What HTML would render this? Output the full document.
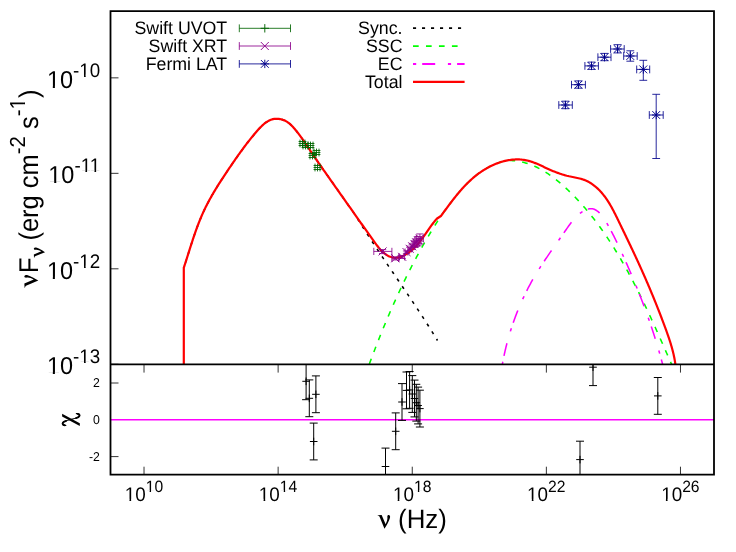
<!DOCTYPE html>
<html><head><meta charset="utf-8"><title>SED</title>
<style>
html,body{margin:0;padding:0;background:#fff;}
svg{display:block;} .tx{opacity:0.999;}
text{font-family:"Liberation Sans",sans-serif;fill:#000;text-rendering:geometricPrecision;}
</style></head><body>
<svg width="736" height="552" viewBox="0 0 736 552">
<rect x="0" y="0" width="736" height="552" fill="#fff"/>
<defs><clipPath id="cm"><rect x="110.5" y="11.2" width="603.5" height="353.1"/></clipPath>
<clipPath id="cr"><rect x="110.5" y="364.3" width="603.5" height="110.39999999999998"/></clipPath></defs>

<g clip-path="url(#cm)" fill="none">
<path d="M183.80,267.70 L184.18,266.55 L184.56,265.41 L184.93,264.27 L185.30,263.12 L185.67,261.98 L186.04,260.83 L186.41,259.69 L186.77,258.55 L187.13,257.40 L187.50,256.26 L187.86,255.12 L188.22,253.98 L188.58,252.84 L188.94,251.70 L189.30,250.56 L189.66,249.42 L190.02,248.28 L190.38,247.14 L190.75,246.01 L191.11,244.87 L191.47,243.74 L191.84,242.60 L192.21,241.47 L192.58,240.34 L192.95,239.21 L193.33,238.08 L193.71,236.95 L194.09,235.83 L194.47,234.70 L194.86,233.58 L195.25,232.45 L195.64,231.33 L196.04,230.21 L196.44,229.09 L196.85,227.97 L197.26,226.86 L197.68,225.74 L198.10,224.63 L198.53,223.52 L198.96,222.41 L199.40,221.30 L199.84,220.19 L200.30,219.09 L200.75,217.99 L201.22,216.89 L201.69,215.79 L202.16,214.69 L202.65,213.60 L203.14,212.50 L203.64,211.41 L204.15,210.32 L204.67,209.24 L205.19,208.15 L205.72,207.07 L206.26,205.99 L206.81,204.91 L207.36,203.84 L207.93,202.76 L208.49,201.69 L209.07,200.62 L209.65,199.56 L210.23,198.50 L210.83,197.44 L211.42,196.38 L212.03,195.32 L212.64,194.27 L213.25,193.22 L213.87,192.17 L214.49,191.13 L215.11,190.09 L215.74,189.05 L216.38,188.01 L217.01,186.98 L217.65,185.95 L218.30,184.92 L218.94,183.90 L219.59,182.88 L220.24,181.86 L220.89,180.85 L221.54,179.84 L222.20,178.83 L222.86,177.83 L223.51,176.83 L224.17,175.83 L224.83,174.83 L225.49,173.84 L226.15,172.86 L226.81,171.87 L227.47,170.89 L228.13,169.92 L228.78,168.94 L229.44,167.98 L230.09,167.01 L230.75,166.05 L231.40,165.09 L232.05,164.14 L232.70,163.19 L233.35,162.24 L234.00,161.29 L234.65,160.35 L235.30,159.41 L235.96,158.47 L236.61,157.53 L237.27,156.59 L237.93,155.65 L238.59,154.72 L239.26,153.78 L239.93,152.85 L240.61,151.91 L241.29,150.98 L241.97,150.04 L242.66,149.10 L243.35,148.16 L244.05,147.22 L244.76,146.28 L245.47,145.34 L246.20,144.39 L246.92,143.44 L247.66,142.49 L248.41,141.54 L249.16,140.58 L249.92,139.62 L250.69,138.65 L251.48,137.68 L252.27,136.71 L253.07,135.73 L253.89,134.75 L254.71,133.76 L255.55,132.76 L256.40,131.77 L257.26,130.77 L258.14,129.78 L259.03,128.80 L259.93,127.84 L260.85,126.90 L261.78,125.99 L262.72,125.11 L263.68,124.27 L264.66,123.46 L265.65,122.71 L266.66,122.00 L267.69,121.35 L268.73,120.77 L269.79,120.25 L270.87,119.80 L271.97,119.43 L273.09,119.14 L274.22,118.93 L275.36,118.81 L276.51,118.76 L277.67,118.79 L278.81,118.89 L279.95,119.06 L281.07,119.29 L282.17,119.59 L283.24,119.95 L284.28,120.37 L285.29,120.84 L286.26,121.36 L287.19,121.93 L288.10,122.55 L288.98,123.21 L289.83,123.91 L290.66,124.65 L291.48,125.42 L292.27,126.22 L293.05,127.05 L293.82,127.91 L294.58,128.78 L295.33,129.68 L296.08,130.59 L296.82,131.52 L297.56,132.47 L298.30,133.42 L299.03,134.39 L299.76,135.37 L300.49,136.36 L301.21,137.36 L301.94,138.37 L302.65,139.38 L303.37,140.41 L304.08,141.43 L304.79,142.47 L305.50,143.50 L306.20,144.54 L306.91,145.58 L307.60,146.62 L308.30,147.66 L309.00,148.70 L309.69,149.74 L310.38,150.77 L311.07,151.80 L311.76,152.83 L312.45,153.85 L313.13,154.86 L313.81,155.87 L314.49,156.87 L315.17,157.87 L315.85,158.86 L316.53,159.85 L317.21,160.84 L317.88,161.82 L318.56,162.80 L319.23,163.77 L319.91,164.74 L320.58,165.71 L321.25,166.67 L321.92,167.64 L322.59,168.60 L323.26,169.56 L323.93,170.52 L324.60,171.47 L325.28,172.43 L325.95,173.38 L326.62,174.34 L327.29,175.29 L327.96,176.24 L328.63,177.20 L329.30,178.15 L329.98,179.11 L330.65,180.06 L331.32,181.02 L332.00,181.98 L332.68,182.94 L333.35,183.90 L334.03,184.86 L334.71,185.83 L335.39,186.79 L336.07,187.76 L336.75,188.72 L337.43,189.69 L338.11,190.66 L338.79,191.63 L339.47,192.60 L340.16,193.57 L340.84,194.54 L341.53,195.51 L342.21,196.48 L342.90,197.46 L343.58,198.43 L344.27,199.41 L344.96,200.39 L345.65,201.36 L346.34,202.34 L347.03,203.32 L347.72,204.30 L348.41,205.28 L349.10,206.26 L349.79,207.24 L350.49,208.23 L351.18,209.21 L351.88,210.19 L352.57,211.18 L353.27,212.16 L353.96,213.15 L354.66,214.13 L355.35,215.12 L355.98,216.14 L356.60,217.16 L357.23,218.18 L357.86,219.20 L358.49,220.22 L359.12,221.24 L359.76,222.26 L360.39,223.27 L361.03,224.29 L361.67,225.30 L362.31,226.31 L362.95,227.33 L363.59,228.34 L364.23,229.35 L364.88,230.36 L365.52,231.37 L366.17,232.38 L366.82,233.38 L367.46,234.39 L368.12,235.40 L368.77,236.40 L369.42,237.41 L370.07,238.41 L370.73,239.42 L371.38,240.42 L372.04,241.42 L372.70,242.43 L373.36,243.43 L374.02,244.43 L374.68,245.43 L375.34,246.43 L376.00,247.43 L376.66,248.43 L377.32,249.43 L377.99,250.42 L378.65,251.42 L379.32,252.42 L379.99,253.42 L380.65,254.41 L381.32,255.41 L381.99,256.40 L382.66,257.40 L383.33,258.39 L384.00,259.39 L384.67,260.38 L385.34,261.38 L386.01,262.37 L386.68,263.37 L387.35,264.36 L388.02,265.35 L388.70,266.35 L389.37,267.34 L390.04,268.33 L390.72,269.32 L391.39,270.32 L392.06,271.31 L392.74,272.30 L393.41,273.29 L394.08,274.29 L394.76,275.28 L395.43,276.27 L396.11,277.26 L396.78,278.26 L397.46,279.25 L398.13,280.24 L398.80,281.23 L399.48,282.23 L400.15,283.22 L400.83,284.21 L401.50,285.20 L402.17,286.20 L402.85,287.19 L403.52,288.18 L404.19,289.18 L404.86,290.17 L405.54,291.17 L406.21,292.16 L406.88,293.15 L407.55,294.15 L408.22,295.14 L408.89,296.14 L409.56,297.14 L410.23,298.13 L410.90,299.13 L411.57,300.12 L412.23,301.12 L412.90,302.12 L413.56,303.12 L414.23,304.12 L414.89,305.12 L415.56,306.11 L416.22,307.11 L416.88,308.12 L417.54,309.12 L418.21,310.12 L418.86,311.12 L419.52,312.12 L420.18,313.13 L420.84,314.13 L421.49,315.13 L422.15,316.14 L422.80,317.15 L423.46,318.15 L424.11,319.16 L424.76,320.17 L425.41,321.18 L426.06,322.19 L426.70,323.20 L427.35,324.21 L427.99,325.22 L428.64,326.23 L429.28,327.24 L429.92,328.26 L430.56,329.27 L431.20,330.29 L431.84,331.31 L432.47,332.32 L433.11,333.34 L433.74,334.36 L434.37,335.38 L435.00,336.40 L435.63,337.43 L436.25,338.45 L436.88,339.47 L437.50,340.50" stroke="#000" stroke-width="1.6" stroke-dasharray="3.1,5.9" stroke-dashoffset="3.6"/>
<path d="M369.10,364.60 L369.52,363.48 L369.93,362.36 L370.35,361.24 L370.77,360.11 L371.19,358.99 L371.61,357.87 L372.04,356.75 L372.46,355.63 L372.88,354.51 L373.31,353.40 L373.74,352.28 L374.17,351.16 L374.60,350.04 L375.03,348.92 L375.46,347.80 L375.89,346.69 L376.33,345.57 L376.76,344.46 L377.20,343.34 L377.64,342.22 L378.08,341.11 L378.52,339.99 L378.96,338.88 L379.40,337.77 L379.85,336.65 L380.29,335.54 L380.74,334.43 L381.19,333.32 L381.64,332.20 L382.09,331.09 L382.54,329.98 L383.00,328.87 L383.45,327.76 L383.91,326.66 L384.37,325.55 L384.83,324.44 L385.29,323.33 L385.75,322.23 L386.22,321.12 L386.68,320.02 L387.15,318.91 L387.62,317.81 L388.09,316.70 L388.56,315.60 L389.03,314.50 L389.51,313.40 L389.98,312.30 L390.46,311.19 L390.94,310.10 L391.42,309.00 L391.90,307.90 L392.38,306.80 L392.87,305.70 L393.36,304.61 L393.84,303.51 L394.33,302.42 L394.83,301.32 L395.32,300.23 L395.81,299.14 L396.31,298.05 L396.81,296.96 L397.31,295.87 L397.81,294.78 L398.31,293.69 L398.82,292.60 L399.32,291.51 L399.83,290.43 L400.34,289.34 L400.85,288.26 L401.37,287.17 L401.88,286.09 L402.40,285.01 L402.92,283.93 L403.44,282.85 L403.96,281.77 L404.49,280.69 L405.01,279.61 L405.54,278.54 L406.07,277.46 L406.60,276.39 L407.13,275.31 L407.67,274.24 L408.21,273.17 L408.74,272.10 L409.28,271.03 L409.83,269.96 L410.37,268.89 L410.92,267.83 L411.47,266.76 L412.02,265.70 L412.57,264.63 L413.12,263.57 L413.68,262.51 L414.24,261.45 L414.80,260.39 L415.36,259.33 L415.92,258.28 L416.49,257.22 L417.06,256.17 L417.63,255.11 L418.20,254.06 L418.78,253.01 L419.35,251.96 L419.93,250.91 L420.51,249.86 L421.09,248.82 L421.68,247.77 L422.27,246.73 L422.85,245.68 L423.45,244.64 L424.04,243.60 L424.63,242.56 L425.23,241.52 L425.83,240.49 L426.43,239.45 L427.04,238.42 L427.64,237.38 L428.25,236.35 L428.86,235.32 L429.48,234.29 L430.09,233.26 L430.71,232.24 L431.33,231.21 L431.95,230.19 L432.57,229.17 L433.20,228.14 L433.83,227.12 L434.46,226.11 L435.09,225.09 L435.73,224.07 L436.37,223.06 L437.01,222.05 L437.65,221.04 L438.30,220.03 L438.94,219.02 L439.59,218.01 L440.25,217.00 L440.90,216.00 L441.61,215.04 L442.32,214.08 L443.02,213.12 L443.73,212.16 L444.44,211.19 L445.15,210.23 L445.86,209.27 L446.58,208.30 L447.29,207.34 L448.01,206.37 L448.73,205.41 L449.45,204.45 L450.17,203.49 L450.90,202.53 L451.63,201.58 L452.36,200.62 L453.09,199.67 L453.83,198.73 L454.58,197.78 L455.33,196.84 L456.08,195.91 L456.84,194.97 L457.60,194.05 L458.37,193.12 L459.14,192.21 L459.92,191.29 L460.71,190.39 L461.50,189.49 L462.30,188.59 L463.10,187.71 L463.91,186.83 L464.73,185.95 L465.56,185.09 L466.39,184.23 L467.24,183.38 L468.09,182.54 L468.95,181.71 L469.82,180.89 L470.69,180.08 L471.58,179.27 L472.48,178.48 L473.38,177.70 L474.30,176.92 L475.22,176.16 L476.16,175.41 L477.11,174.67 L478.06,173.95 L479.03,173.23 L480.01,172.53 L481.01,171.84 L482.01,171.17 L483.03,170.50 L484.05,169.86 L485.09,169.22 L486.14,168.60 L487.20,168.00 L488.26,167.41 L489.34,166.84 L490.42,166.29 L491.52,165.75 L492.62,165.24 L493.73,164.74 L494.84,164.26 L495.96,163.80 L497.09,163.36 L498.23,162.94 L499.37,162.54 L500.51,162.16 L501.66,161.80 L502.82,161.47 L503.97,161.16 L505.14,160.88 L506.30,160.61 L507.90,160.50 L509.11,160.50 L510.32,160.52 L511.52,160.56 L512.71,160.63 L513.90,160.72 L515.08,160.84 L516.25,160.98 L517.42,161.14 L518.58,161.33 L519.73,161.53 L520.88,161.76 L522.02,162.01 L523.15,162.28 L524.28,162.58 L525.40,162.89 L526.52,163.22 L527.63,163.57 L528.73,163.94 L529.83,164.33 L530.92,164.74 L532.01,165.16 L533.08,165.61 L534.16,166.07 L535.22,166.54 L536.29,167.04 L537.34,167.55 L538.39,168.07 L539.43,168.62 L540.47,169.17 L541.50,169.74 L542.53,170.33 L543.55,170.93 L544.57,171.54 L545.57,172.17 L546.58,172.81 L547.58,173.46 L548.57,174.13 L549.55,174.80 L550.54,175.49 L551.51,176.19 L552.48,176.90 L553.45,177.62 L554.40,178.35 L555.36,179.09 L556.31,179.84 L557.25,180.60 L558.19,181.36 L559.12,182.14 L560.05,182.92 L560.97,183.71 L561.89,184.51 L562.80,185.31 L563.71,186.12 L564.61,186.94 L565.51,187.76 L566.40,188.59 L567.28,189.42 L568.17,190.26 L569.04,191.10 L569.92,191.94 L570.78,192.79 L571.65,193.64 L572.50,194.50 L573.36,195.36 L574.20,196.23 L575.05,197.10 L575.89,197.97 L576.72,198.85 L577.55,199.73 L578.37,200.62 L579.20,201.51 L580.01,202.40 L580.82,203.29 L581.63,204.19 L582.43,205.10 L583.23,206.00 L584.02,206.91 L584.81,207.83 L585.60,208.75 L586.38,209.67 L587.16,210.59 L587.93,211.52 L588.70,212.45 L589.46,213.38 L590.22,214.32 L590.98,215.26 L591.73,216.20 L592.48,217.15 L593.22,218.09 L593.96,219.05 L594.70,220.00 L595.43,220.96 L596.16,221.92 L596.88,222.88 L597.60,223.85 L598.32,224.81 L599.03,225.78 L599.74,226.76 L600.45,227.73 L601.15,228.71 L601.85,229.69 L602.54,230.67 L603.23,231.66 L603.92,232.65 L604.60,233.63 L605.28,234.63 L605.96,235.62 L606.63,236.62 L607.30,237.61 L607.97,238.61 L608.63,239.62 L609.29,240.62 L609.95,241.63 L610.61,242.63 L611.26,243.64 L611.90,244.65 L612.55,245.67 L613.19,246.68 L613.83,247.70 L614.46,248.71 L615.09,249.73 L615.72,250.75 L616.35,251.77 L616.97,252.80 L617.59,253.82 L618.21,254.85 L618.83,255.87 L619.44,256.90 L620.05,257.93 L620.65,258.97 L621.26,260.00 L621.86,261.03 L622.45,262.07 L623.05,263.10 L623.64,264.14 L624.23,265.18 L624.82,266.22 L625.41,267.26 L625.99,268.31 L626.57,269.35 L627.15,270.40 L627.72,271.44 L628.30,272.49 L628.87,273.54 L629.44,274.59 L630.00,275.64 L630.57,276.69 L631.13,277.75 L631.69,278.80 L632.25,279.86 L632.80,280.91 L633.36,281.97 L633.91,283.03 L634.46,284.09 L635.01,285.15 L635.55,286.21 L636.10,287.27 L636.64,288.34 L637.18,289.40 L637.72,290.47 L638.25,291.54 L638.79,292.60 L639.32,293.67 L639.85,294.74 L640.38,295.81 L640.91,296.89 L641.43,297.96 L641.96,299.03 L642.48,300.11 L643.00,301.18 L643.52,302.26 L644.04,303.33 L644.56,304.41 L645.08,305.49 L645.59,306.57 L646.10,307.65 L646.62,308.73 L647.13,309.81 L647.64,310.89 L648.14,311.98 L648.65,313.06 L649.16,314.15 L649.66,315.23 L650.16,316.32 L650.67,317.40 L651.17,318.49 L651.67,319.58 L652.17,320.67 L652.67,321.76 L653.16,322.85 L653.66,323.94 L654.16,325.03 L654.65,326.12 L655.15,327.21 L655.64,328.30 L656.13,329.40 L656.62,330.49 L657.12,331.58 L657.61,332.68 L658.10,333.78 L658.59,334.87 L659.08,335.97 L659.56,337.06 L660.05,338.16 L660.54,339.26 L661.03,340.36 L661.51,341.46 L662.00,342.55 L662.49,343.65 L662.97,344.75 L663.46,345.85 L663.94,346.95 L664.43,348.05 L664.91,349.16 L665.40,350.26 L665.88,351.36 L666.37,352.46 L666.85,353.56 L667.34,354.67 L667.82,355.77 L668.30,356.87 L668.79,357.98 L669.27,359.08 L669.76,360.18 L670.24,361.29 L670.73,362.39 L671.21,363.50 L671.70,364.60" stroke="#00ff00" stroke-width="1.55" stroke-dasharray="5.7,7.09" stroke-dashoffset="-0.6"/>
<path d="M502.30,364.60 L502.51,363.44 L502.72,362.27 L502.93,361.11 L503.16,359.95 L503.39,358.78 L503.62,357.62 L503.86,356.45 L504.10,355.29 L504.35,354.13 L504.61,352.96 L504.87,351.80 L505.14,350.64 L505.41,349.47 L505.69,348.31 L505.97,347.15 L506.26,345.98 L506.56,344.82 L506.86,343.66 L507.16,342.50 L507.47,341.34 L507.79,340.18 L508.11,339.03 L508.43,337.87 L508.76,336.71 L509.10,335.56 L509.44,334.40 L509.79,333.25 L510.14,332.10 L510.50,330.95 L510.86,329.80 L511.23,328.65 L511.60,327.50 L511.98,326.36 L512.37,325.22 L512.75,324.07 L513.15,322.93 L513.55,321.80 L513.95,320.66 L514.36,319.52 L514.77,318.39 L515.19,317.26 L515.61,316.13 L516.04,315.00 L516.48,313.88 L516.91,312.76 L517.36,311.64 L517.81,310.52 L518.26,309.40 L518.72,308.29 L519.18,307.18 L519.65,306.07 L520.12,304.97 L520.60,303.87 L521.08,302.77 L521.56,301.67 L522.06,300.57 L522.55,299.48 L523.05,298.40 L523.56,297.31 L524.07,296.23 L524.58,295.15 L525.10,294.07 L525.62,293.00 L526.15,291.93 L526.69,290.87 L527.22,289.80 L527.76,288.75 L528.31,287.69 L528.86,286.64 L529.42,285.59 L529.98,284.55 L530.54,283.51 L531.11,282.47 L531.68,281.44 L532.26,280.41 L532.84,279.39 L533.43,278.37 L534.02,277.35 L534.62,276.34 L535.21,275.33 L535.82,274.32 L536.42,273.32 L537.04,272.32 L537.65,271.33 L538.27,270.33 L538.89,269.34 L539.52,268.35 L540.15,267.36 L540.78,266.38 L541.42,265.39 L542.06,264.41 L542.71,263.43 L543.35,262.45 L544.00,261.47 L544.66,260.49 L545.32,259.52 L545.98,258.54 L546.64,257.56 L547.31,256.58 L547.98,255.60 L548.65,254.62 L549.33,253.65 L550.01,252.67 L550.69,251.68 L551.37,250.70 L552.06,249.72 L552.75,248.73 L553.44,247.74 L554.13,246.75 L554.83,245.76 L555.53,244.77 L556.23,243.77 L556.93,242.77 L557.64,241.77 L558.34,240.76 L559.05,239.76 L559.76,238.74 L560.48,237.73 L561.19,236.71 L561.91,235.68 L562.63,234.65 L563.35,233.62 L564.07,232.58 L564.79,231.54 L565.52,230.49 L566.25,229.44 L566.98,228.40 L567.71,227.35 L568.45,226.31 L569.20,225.28 L569.96,224.26 L570.72,223.25 L571.49,222.25 L572.27,221.27 L573.06,220.30 L573.86,219.36 L574.67,218.44 L575.49,217.54 L576.33,216.67 L577.18,215.83 L578.04,215.02 L578.92,214.24 L579.82,213.50 L580.74,212.80 L581.67,212.13 L582.62,211.51 L583.59,210.93 L584.57,210.41 L585.56,209.94 L586.56,209.53 L587.56,209.20 L588.55,208.94 L589.55,208.77 L590.53,208.68 L591.50,208.69 L592.46,208.80 L593.39,209.01 L594.31,209.32 L595.21,209.72 L596.09,210.21 L596.95,210.78 L597.80,211.43 L598.63,212.14 L599.44,212.92 L600.24,213.76 L601.02,214.65 L601.79,215.59 L602.54,216.57 L603.28,217.59 L604.00,218.65 L604.71,219.72 L605.41,220.82 L606.09,221.94 L606.76,223.06 L607.42,224.19 L608.07,225.32 L608.71,226.45 L609.34,227.58 L609.95,228.71 L610.56,229.83 L611.16,230.95 L611.74,232.07 L612.32,233.18 L612.89,234.28 L613.46,235.38 L614.01,236.47 L614.56,237.56 L615.10,238.65 L615.63,239.73 L616.16,240.81 L616.68,241.89 L617.20,242.96 L617.71,244.03 L618.22,245.11 L618.72,246.17 L619.22,247.24 L619.72,248.31 L620.21,249.38 L620.70,250.45 L621.19,251.51 L621.68,252.58 L622.17,253.65 L622.65,254.72 L623.13,255.79 L623.62,256.87 L624.10,257.94 L624.58,259.02 L625.07,260.10 L625.55,261.18 L626.03,262.26 L626.51,263.35 L626.99,264.43 L627.46,265.52 L627.94,266.61 L628.42,267.70 L628.89,268.79 L629.37,269.88 L629.84,270.98 L630.31,272.07 L630.78,273.17 L631.25,274.27 L631.72,275.37 L632.19,276.47 L632.65,277.57 L633.12,278.67 L633.58,279.78 L634.04,280.88 L634.50,281.99 L634.96,283.09 L635.42,284.20 L635.87,285.31 L636.32,286.42 L636.78,287.53 L637.23,288.64 L637.68,289.75 L638.12,290.86 L638.57,291.98 L639.01,293.09 L639.45,294.21 L639.89,295.32 L640.33,296.44 L640.76,297.55 L641.20,298.67 L641.63,299.79 L642.06,300.91 L642.49,302.02 L642.91,303.14 L643.33,304.26 L643.76,305.38 L644.18,306.51 L644.59,307.63 L645.01,308.75 L645.42,309.87 L645.83,311.00 L646.24,312.12 L646.65,313.25 L647.05,314.37 L647.46,315.50 L647.86,316.63 L648.26,317.75 L648.65,318.88 L649.05,320.01 L649.44,321.14 L649.83,322.27 L650.22,323.40 L650.60,324.53 L650.99,325.67 L651.37,326.80 L651.75,327.93 L652.12,329.07 L652.50,330.20 L652.87,331.34 L653.24,332.47 L653.61,333.61 L653.98,334.75 L654.34,335.89 L654.70,337.03 L655.06,338.17 L655.42,339.31 L655.78,340.45 L656.13,341.59 L656.48,342.74 L656.83,343.88 L657.17,345.02 L657.52,346.17 L657.86,347.32 L658.20,348.46 L658.53,349.61 L658.87,350.76 L659.20,351.91 L659.53,353.06 L659.86,354.21 L660.18,355.36 L660.51,356.51 L660.83,357.67 L661.15,358.82 L661.46,359.97 L661.77,361.13 L662.09,362.29 L662.39,363.44 L662.70,364.60" stroke="#ff00ff" stroke-width="1.55" stroke-dasharray="3.2,6,13,12.3" stroke-dashoffset="0.3"/>
<path d="M183.8,364.6 L183.80,267.70 L184.18,266.55 L184.56,265.41 L184.93,264.27 L185.30,263.12 L185.67,261.98 L186.04,260.83 L186.41,259.69 L186.77,258.55 L187.13,257.40 L187.50,256.26 L187.86,255.12 L188.22,253.98 L188.58,252.84 L188.94,251.70 L189.30,250.56 L189.66,249.42 L190.02,248.28 L190.38,247.14 L190.75,246.01 L191.11,244.87 L191.47,243.74 L191.84,242.60 L192.21,241.47 L192.58,240.34 L192.95,239.21 L193.33,238.08 L193.71,236.95 L194.09,235.83 L194.47,234.70 L194.86,233.58 L195.25,232.45 L195.64,231.33 L196.04,230.21 L196.44,229.09 L196.85,227.97 L197.26,226.86 L197.68,225.74 L198.10,224.63 L198.53,223.52 L198.96,222.41 L199.40,221.30 L199.84,220.19 L200.30,219.09 L200.75,217.99 L201.22,216.89 L201.69,215.79 L202.16,214.69 L202.65,213.60 L203.14,212.50 L203.64,211.41 L204.15,210.32 L204.67,209.24 L205.19,208.15 L205.72,207.07 L206.26,205.99 L206.81,204.91 L207.36,203.84 L207.93,202.76 L208.49,201.69 L209.07,200.62 L209.65,199.56 L210.23,198.50 L210.83,197.44 L211.42,196.38 L212.03,195.32 L212.64,194.27 L213.25,193.22 L213.87,192.17 L214.49,191.13 L215.11,190.09 L215.74,189.05 L216.38,188.01 L217.01,186.98 L217.65,185.95 L218.30,184.92 L218.94,183.90 L219.59,182.88 L220.24,181.86 L220.89,180.85 L221.54,179.84 L222.20,178.83 L222.86,177.83 L223.51,176.83 L224.17,175.83 L224.83,174.83 L225.49,173.84 L226.15,172.86 L226.81,171.87 L227.47,170.89 L228.13,169.92 L228.78,168.94 L229.44,167.98 L230.09,167.01 L230.75,166.05 L231.40,165.09 L232.05,164.14 L232.70,163.19 L233.35,162.24 L234.00,161.29 L234.65,160.35 L235.30,159.41 L235.96,158.47 L236.61,157.53 L237.27,156.59 L237.93,155.65 L238.59,154.72 L239.26,153.78 L239.93,152.85 L240.61,151.91 L241.29,150.98 L241.97,150.04 L242.66,149.10 L243.35,148.16 L244.05,147.22 L244.76,146.28 L245.47,145.34 L246.20,144.39 L246.92,143.44 L247.66,142.49 L248.41,141.54 L249.16,140.58 L249.92,139.62 L250.69,138.65 L251.48,137.68 L252.27,136.71 L253.07,135.73 L253.89,134.75 L254.71,133.76 L255.55,132.76 L256.40,131.77 L257.26,130.77 L258.14,129.78 L259.03,128.80 L259.93,127.84 L260.85,126.90 L261.78,125.99 L262.72,125.11 L263.68,124.27 L264.66,123.46 L265.65,122.71 L266.66,122.00 L267.69,121.35 L268.73,120.77 L269.79,120.25 L270.87,119.80 L271.97,119.43 L273.09,119.14 L274.22,118.93 L275.36,118.81 L276.51,118.76 L277.67,118.79 L278.81,118.89 L279.95,119.06 L281.07,119.29 L282.17,119.59 L283.24,119.95 L284.28,120.37 L285.29,120.84 L286.26,121.36 L287.19,121.93 L288.10,122.55 L288.98,123.21 L289.83,123.91 L290.66,124.65 L291.48,125.42 L292.27,126.22 L293.05,127.05 L293.82,127.91 L294.58,128.78 L295.33,129.68 L296.08,130.59 L296.82,131.52 L297.56,132.47 L298.30,133.42 L299.03,134.39 L299.76,135.37 L300.49,136.36 L301.21,137.36 L301.94,138.37 L302.65,139.38 L303.37,140.41 L304.08,141.43 L304.79,142.47 L305.50,143.50 L306.20,144.54 L306.91,145.58 L307.60,146.62 L308.30,147.66 L309.00,148.70 L309.69,149.74 L310.38,150.77 L311.07,151.80 L311.76,152.83 L312.45,153.85 L313.13,154.86 L313.81,155.87 L314.49,156.87 L315.17,157.87 L315.85,158.86 L316.53,159.85 L317.21,160.84 L317.88,161.82 L318.56,162.80 L319.23,163.77 L319.91,164.74 L320.58,165.71 L321.25,166.67 L321.92,167.64 L322.59,168.60 L323.26,169.56 L323.93,170.52 L324.60,171.47 L325.28,172.43 L325.95,173.38 L326.62,174.34 L327.29,175.29 L327.96,176.24 L328.63,177.20 L329.30,178.15 L329.98,179.11 L330.65,180.06 L331.32,181.02 L332.00,181.98 L332.68,182.94 L333.35,183.90 L334.03,184.86 L334.71,185.83 L335.39,186.79 L336.07,187.76 L336.75,188.72 L337.43,189.69 L338.11,190.66 L338.79,191.63 L339.47,192.60 L340.16,193.57 L340.84,194.54 L341.53,195.51 L342.21,196.48 L342.90,197.46 L343.58,198.43 L344.27,199.41 L344.96,200.39 L345.65,201.36 L346.34,202.34 L347.03,203.32 L347.72,204.30 L348.41,205.28 L349.10,206.26 L349.79,207.24 L350.49,208.23 L351.18,209.21 L351.88,210.19 L352.57,211.18 L353.27,212.16 L353.96,213.15 L354.66,214.13 L355.35,215.12 L356.05,216.11 L356.75,217.09 L357.45,218.08 L358.15,219.07 L358.85,220.06 L359.55,221.04 L360.25,222.03 L360.95,223.02 L361.65,224.01 L362.35,225.00 L363.06,225.99 L363.76,226.98 L364.46,227.97 L365.17,228.96 L365.87,229.95 L366.58,230.95 L367.28,231.94 L367.99,232.93 L368.69,233.92 L369.40,234.91 L370.11,235.90 L370.81,236.89 L371.52,237.89 L372.23,238.88 L372.94,239.87 L373.65,240.86 L374.36,241.85 L375.07,242.84 L375.79,243.83 L376.51,244.80 L377.24,245.76 L377.98,246.71 L378.73,247.65 L379.49,248.56 L380.27,249.45 L381.07,250.31 L381.89,251.14 L382.73,251.95 L383.59,252.71 L384.48,253.44 L385.40,254.13 L386.35,254.77 L387.33,255.36 L388.34,255.91 L389.39,256.40 L390.47,256.83 L391.59,257.20 L392.73,257.48 L393.89,257.68 L395.07,257.77 L396.25,257.75 L397.44,257.62 L398.63,257.38 L399.81,257.06 L400.98,256.66 L402.14,256.21 L403.26,255.70 L404.37,255.15 L405.44,254.58 L406.49,253.97 L407.51,253.33 L408.50,252.66 L409.47,251.96 L410.42,251.24 L411.34,250.49 L412.25,249.72 L413.13,248.92 L413.99,248.10 L414.84,247.26 L415.67,246.40 L416.48,245.53 L417.28,244.63 L418.06,243.72 L418.83,242.80 L419.59,241.86 L420.34,240.92 L421.08,239.96 L421.81,238.99 L422.53,238.01 L423.24,237.03 L423.95,236.04 L424.65,235.05 L425.35,234.06 L426.04,233.06 L426.74,232.06 L427.43,231.07 L428.12,230.07 L428.81,229.08 L429.51,228.09 L430.21,227.11 L430.91,226.14 L431.62,225.17 L432.33,224.22 L433.05,223.27 L433.78,222.34 L434.52,221.42 L435.27,220.51 L436.03,219.62 L436.80,218.75 L440.90,216.00 L441.61,215.04 L442.32,214.08 L443.02,213.12 L443.73,212.16 L444.44,211.19 L445.15,210.23 L445.86,209.27 L446.58,208.30 L447.29,207.34 L448.01,206.37 L448.73,205.41 L449.45,204.45 L450.17,203.49 L450.90,202.53 L451.63,201.58 L452.36,200.62 L453.09,199.67 L453.83,198.73 L454.58,197.78 L455.33,196.84 L456.08,195.91 L456.84,194.97 L457.60,194.05 L458.37,193.12 L459.14,192.21 L459.92,191.29 L460.71,190.39 L461.50,189.49 L462.30,188.59 L463.10,187.71 L463.91,186.83 L464.73,185.95 L465.56,185.09 L466.39,184.23 L467.24,183.38 L468.09,182.54 L468.95,181.71 L469.82,180.89 L470.69,180.08 L471.58,179.27 L472.48,178.48 L473.38,177.70 L474.30,176.92 L475.22,176.16 L476.16,175.41 L477.11,174.67 L478.06,173.95 L479.03,173.23 L480.01,172.53 L481.01,171.84 L482.01,171.17 L483.03,170.50 L484.05,169.86 L485.09,169.22 L486.14,168.60 L487.20,168.00 L488.26,167.41 L489.34,166.84 L490.42,166.29 L491.52,165.75 L492.62,165.24 L493.73,164.74 L494.84,164.26 L495.96,163.80 L497.09,163.36 L498.23,162.94 L499.37,162.54 L500.51,162.16 L501.66,161.80 L502.82,161.47 L503.97,161.16 L505.14,160.88 L506.30,160.61 L507.47,160.37 L508.64,160.16 L509.81,159.97 L510.98,159.81 L512.16,159.68 L513.33,159.57 L514.51,159.49 L515.69,159.44 L516.86,159.41 L518.04,159.42 L519.21,159.45 L520.38,159.51 L521.55,159.61 L522.72,159.73 L523.88,159.89 L525.05,160.08 L526.21,160.30 L527.36,160.55 L528.51,160.84 L529.66,161.16 L530.80,161.50 L531.94,161.88 L533.07,162.28 L534.20,162.70 L535.33,163.14 L536.46,163.60 L537.58,164.08 L538.70,164.57 L539.82,165.07 L540.94,165.58 L542.06,166.10 L543.17,166.62 L544.29,167.14 L545.40,167.66 L546.52,168.18 L547.63,168.70 L548.75,169.20 L549.86,169.70 L550.98,170.19 L552.10,170.67 L553.21,171.14 L554.33,171.60 L555.46,172.05 L556.58,172.48 L557.71,172.90 L558.84,173.31 L559.97,173.70 L561.10,174.08 L562.24,174.45 L563.38,174.80 L564.53,175.13 L565.68,175.44 L566.83,175.74 L567.99,176.01 L569.16,176.28 L570.32,176.52 L571.49,176.76 L572.66,177.00 L573.83,177.23 L575.00,177.46 L576.16,177.71 L577.32,177.96 L578.47,178.22 L579.62,178.50 L580.76,178.80 L581.89,179.13 L583.02,179.48 L584.13,179.87 L585.22,180.29 L586.31,180.75 L587.38,181.26 L588.43,181.80 L589.47,182.38 L590.49,182.99 L591.50,183.64 L592.48,184.32 L593.45,185.03 L594.40,185.76 L595.34,186.52 L596.25,187.29 L597.14,188.09 L598.01,188.91 L598.86,189.74 L599.69,190.59 L600.51,191.46 L601.30,192.34 L602.08,193.24 L602.84,194.15 L603.58,195.07 L604.31,196.01 L605.03,196.96 L605.72,197.93 L606.41,198.90 L607.08,199.89 L607.74,200.89 L608.38,201.89 L609.02,202.91 L609.64,203.94 L610.25,204.97 L610.86,206.01 L611.45,207.06 L612.04,208.12 L612.61,209.18 L613.18,210.25 L613.75,211.32 L614.30,212.40 L614.85,213.48 L615.40,214.56 L615.94,215.65 L616.48,216.74 L617.02,217.83 L617.55,218.93 L618.08,220.02 L618.61,221.11 L619.13,222.20 L619.66,223.30 L620.19,224.39 L620.71,225.48 L621.24,226.57 L621.77,227.66 L622.29,228.74 L622.82,229.83 L623.34,230.92 L623.86,232.00 L624.39,233.09 L624.91,234.17 L625.43,235.26 L625.95,236.34 L626.47,237.42 L626.99,238.51 L627.51,239.59 L628.03,240.67 L628.54,241.75 L629.06,242.83 L629.58,243.92 L630.09,245.00 L630.61,246.08 L631.12,247.16 L631.63,248.24 L632.14,249.32 L632.65,250.40 L633.16,251.48 L633.67,252.57 L634.18,253.65 L634.68,254.73 L635.19,255.81 L635.69,256.89 L636.19,257.98 L636.70,259.06 L637.20,260.14 L637.70,261.23 L638.19,262.31 L638.69,263.40 L639.19,264.48 L639.68,265.57 L640.17,266.65 L640.67,267.74 L641.16,268.83 L641.65,269.92 L642.13,271.01 L642.62,272.10 L643.10,273.19 L643.59,274.28 L644.07,275.37 L644.55,276.47 L645.03,277.56 L645.51,278.66 L645.99,279.75 L646.46,280.85 L646.94,281.94 L647.41,283.04 L647.88,284.14 L648.35,285.24 L648.82,286.34 L649.29,287.44 L649.75,288.54 L650.22,289.65 L650.68,290.75 L651.14,291.86 L651.60,292.96 L652.06,294.07 L652.52,295.17 L652.98,296.28 L653.43,297.39 L653.89,298.50 L654.34,299.61 L654.79,300.72 L655.24,301.84 L655.69,302.95 L656.14,304.06 L656.58,305.18 L657.03,306.30 L657.47,307.41 L657.91,308.53 L658.35,309.65 L658.79,310.77 L659.23,311.89 L659.67,313.01 L660.10,314.14 L660.54,315.26 L660.97,316.39 L661.40,317.51 L661.83,318.64 L662.26,319.77 L662.69,320.89 L663.11,322.02 L663.54,323.16 L663.96,324.29 L664.38,325.42 L664.80,326.55 L665.22,327.69 L665.64,328.83 L666.05,329.96 L666.47,331.10 L666.87,332.24 L667.28,333.38 L667.68,334.52 L668.08,335.66 L668.47,336.81 L668.86,337.95 L669.24,339.10 L669.62,340.25 L669.99,341.39 L670.35,342.54 L670.70,343.69 L671.05,344.85 L671.39,346.00 L671.72,347.15 L672.04,348.31 L672.36,349.46 L672.66,350.62 L672.95,351.78 L673.24,352.94 L673.51,354.10 L673.77,355.26 L674.02,356.42 L674.26,357.59 L674.48,358.75 L674.69,359.92 L674.89,361.09 L675.07,362.26 L675.24,363.43 L675.40,364.60" stroke="#ff0000" stroke-width="2.2" stroke-linejoin="round"/>
</g>
<path d="M300.00,139.60V147.40M302.50,139.60V147.40M305.00,139.60V147.40M298.60,141.50H306.40M298.60,143.50H306.40M298.60,145.50H306.40" stroke="#006400" stroke-width="0.9" fill="none"/>
<path d="M303.00,141.60V149.40M305.50,141.60V149.40M308.00,141.60V149.40M301.60,143.50H309.40M301.60,145.50H309.40M301.60,147.50H309.40" stroke="#006400" stroke-width="0.9" fill="none"/>
<path d="M308.00,141.60V149.40M310.50,141.60V149.40M313.00,141.60V149.40M306.60,143.50H314.40M306.60,145.50H314.40M306.60,147.50H314.40" stroke="#006400" stroke-width="0.9" fill="none"/>
<path d="M310.00,151.60V159.40M312.50,151.60V159.40M315.00,151.60V159.40M308.60,153.50H316.40M308.60,155.50H316.40M308.60,157.50H316.40" stroke="#006400" stroke-width="0.9" fill="none"/>
<path d="M314.00,148.60V156.40M316.50,148.60V156.40M319.00,148.60V156.40M312.60,150.50H320.40M312.60,152.50H320.40M312.60,154.50H320.40" stroke="#006400" stroke-width="0.9" fill="none"/>
<path d="M315.00,163.60V171.40M317.50,163.60V171.40M320.00,163.60V171.40M313.60,165.50H321.40M313.60,167.50H321.40M313.60,169.50H321.40" stroke="#006400" stroke-width="0.9" fill="none"/>
<g stroke="#8b008b" stroke-width="0.85" fill="none"><path d="M373.80,251.40H391.90M373.80,247.80V255.00M391.90,247.80V255.00"/><path d="M382.60,249.60V253.60M379.00,249.60H386.20M379.00,253.60H386.20"/></g>
<path d="M378.60,247.40L386.60,255.40M378.60,255.40L386.60,247.40" stroke="#8b008b" stroke-width="0.95" fill="none"/>
<g stroke="#8b008b" stroke-width="0.85" fill="none"><path d="M391.90,258.30H399.00M391.90,254.70V261.90M399.00,254.70V261.90"/><path d="M395.30,256.95V259.95M391.70,256.95H398.90M391.70,259.95H398.90"/></g>
<path d="M391.30,254.30L399.30,262.30M391.30,262.30L399.30,254.30" stroke="#8b008b" stroke-width="0.95" fill="none"/>
<g stroke="#8b008b" stroke-width="0.85" fill="none"><path d="M399.00,256.80H404.60M399.00,253.20V260.40M404.60,253.20V260.40"/><path d="M402.20,255.45V258.45M398.60,255.45H405.80M398.60,258.45H405.80"/></g>
<path d="M398.20,252.80L406.20,260.80M398.20,260.80L406.20,252.80" stroke="#8b008b" stroke-width="0.95" fill="none"/>
<g stroke="#8b008b" stroke-width="0.85" fill="none"><path d="M405.10,252.04H407.90M405.10,248.44V255.64M407.90,248.44V255.64"/><path d="M406.50,250.96V253.36M402.90,250.96H410.10M402.90,253.36H410.10"/></g>
<path d="M402.50,248.04L410.50,256.04M402.50,256.04L410.50,248.04" stroke="#8b008b" stroke-width="0.95" fill="none"/>
<g stroke="#8b008b" stroke-width="0.85" fill="none"><path d="M407.95,248.82H411.45M407.95,245.22V252.42M411.45,245.22V252.42"/><path d="M409.70,247.18V250.84M406.10,247.18H413.30M406.10,250.84H413.30"/></g>
<path d="M405.70,244.82L413.70,252.82M405.70,252.82L413.70,244.82" stroke="#8b008b" stroke-width="0.95" fill="none"/>
<g stroke="#8b008b" stroke-width="0.85" fill="none"><path d="M410.10,246.31H414.30M410.10,242.71V249.91M414.30,242.71V249.91"/><path d="M412.20,244.10V249.02M408.60,244.10H415.80M408.60,249.02H415.80"/></g>
<path d="M408.20,242.31L416.20,250.31M408.20,250.31L416.20,242.31" stroke="#8b008b" stroke-width="0.95" fill="none"/>
<g stroke="#8b008b" stroke-width="0.85" fill="none"><path d="M412.05,244.01H416.95M412.05,240.41V247.61M416.95,240.41V247.61"/><path d="M414.50,241.23V247.41M410.90,241.23H418.10M410.90,247.41H418.10"/></g>
<path d="M410.50,240.01L418.50,248.01M410.50,248.01L418.50,240.01" stroke="#8b008b" stroke-width="0.95" fill="none"/>
<g stroke="#8b008b" stroke-width="0.85" fill="none"><path d="M413.40,242.37H419.00M413.40,238.77V245.97M419.00,238.77V245.97"/><path d="M416.20,239.02V246.46M412.60,239.02H419.80M412.60,246.46H419.80"/></g>
<path d="M412.20,238.37L420.20,246.37M412.20,246.37L420.20,238.37" stroke="#8b008b" stroke-width="0.95" fill="none"/>
<g stroke="#8b008b" stroke-width="0.85" fill="none"><path d="M414.85,240.40H421.15M414.85,236.80V244.00M421.15,236.80V244.00"/><path d="M418.00,236.49V245.19M414.40,236.49H421.60M414.40,245.19H421.60"/></g>
<path d="M414.00,236.40L422.00,244.40M414.00,244.40L422.00,236.40" stroke="#8b008b" stroke-width="0.95" fill="none"/>
<g stroke="#8b008b" stroke-width="0.85" fill="none"><path d="M416.40,238.44H423.40M416.40,234.84V242.04M423.40,234.84V242.04"/><path d="M419.90,233.95V243.91M416.30,233.95H423.50M416.30,243.91H423.50"/></g>
<path d="M415.90,234.44L423.90,242.44M415.90,242.44L423.90,234.44" stroke="#8b008b" stroke-width="0.95" fill="none"/>
<g stroke="#00008b" stroke-width="0.85" fill="none"><path d="M558.80,105.00H572.30M558.80,101.10V108.90M572.30,101.10V108.90"/><path d="M565.40,101.20V108.70M561.50,101.20H569.30M561.50,108.70H569.30"/></g>
<path d="M561.20,105.00H569.60M565.40,100.80V109.20" stroke="#00008b" stroke-width="0.95" fill="none"/>
<path d="M561.50,101.10L569.30,108.90M561.50,108.90L569.30,101.10" stroke="#00008b" stroke-width="0.95" fill="none"/>
<g stroke="#00008b" stroke-width="0.85" fill="none"><path d="M571.50,84.70H585.40M571.50,80.80V88.60M585.40,80.80V88.60"/><path d="M578.40,80.90V88.20M574.50,80.90H582.30M574.50,88.20H582.30"/></g>
<path d="M574.20,84.70H582.60M578.40,80.50V88.90" stroke="#00008b" stroke-width="0.95" fill="none"/>
<path d="M574.50,80.80L582.30,88.60M574.50,88.60L582.30,80.80" stroke="#00008b" stroke-width="0.95" fill="none"/>
<g stroke="#00008b" stroke-width="0.85" fill="none"><path d="M584.90,65.90H598.40M584.90,62.00V69.80M598.40,62.00V69.80"/><path d="M591.50,62.10V69.40M587.60,62.10H595.40M587.60,69.40H595.40"/></g>
<path d="M587.30,65.90H595.70M591.50,61.70V70.10" stroke="#00008b" stroke-width="0.95" fill="none"/>
<path d="M587.60,62.00L595.40,69.80M587.60,69.80L595.40,62.00" stroke="#00008b" stroke-width="0.95" fill="none"/>
<g stroke="#00008b" stroke-width="0.85" fill="none"><path d="M597.90,57.20H611.00M597.90,53.30V61.10M611.00,53.30V61.10"/><path d="M604.50,53.40V60.70M600.60,53.40H608.40M600.60,60.70H608.40"/></g>
<path d="M600.30,57.20H608.70M604.50,53.00V61.40" stroke="#00008b" stroke-width="0.95" fill="none"/>
<path d="M600.60,53.30L608.40,61.10M600.60,61.10L608.40,53.30" stroke="#00008b" stroke-width="0.95" fill="none"/>
<g stroke="#00008b" stroke-width="0.85" fill="none"><path d="M610.60,49.00H624.20M610.60,45.10V52.90M624.20,45.10V52.90"/><path d="M617.60,44.70V52.90M613.70,44.70H621.50M613.70,52.90H621.50"/></g>
<path d="M613.40,49.00H621.80M617.60,44.80V53.20" stroke="#00008b" stroke-width="0.95" fill="none"/>
<path d="M613.70,45.10L621.50,52.90M613.70,52.90L621.50,45.10" stroke="#00008b" stroke-width="0.95" fill="none"/>
<g stroke="#00008b" stroke-width="0.85" fill="none"><path d="M623.70,56.00H637.20M623.70,52.10V59.90M637.20,52.10V59.90"/><path d="M630.30,50.80V61.20M626.40,50.80H634.20M626.40,61.20H634.20"/></g>
<path d="M626.10,56.00H634.50M630.30,51.80V60.20" stroke="#00008b" stroke-width="0.95" fill="none"/>
<path d="M626.40,52.10L634.20,59.90M626.40,59.90L634.20,52.10" stroke="#00008b" stroke-width="0.95" fill="none"/>
<g stroke="#00008b" stroke-width="0.85" fill="none"><path d="M636.70,69.40H649.70M636.70,65.50V73.30M649.70,65.50V73.30"/><path d="M643.30,60.30V80.30M639.40,60.30H647.20M639.40,80.30H647.20"/></g>
<path d="M639.10,69.40H647.50M643.30,65.20V73.60" stroke="#00008b" stroke-width="0.95" fill="none"/>
<path d="M639.40,65.50L647.20,73.30M639.40,73.30L647.20,65.50" stroke="#00008b" stroke-width="0.95" fill="none"/>
<g stroke="#00008b" stroke-width="0.85" fill="none"><path d="M649.30,115.00H663.20M649.30,111.10V118.90M663.20,111.10V118.90"/><path d="M656.20,94.30V158.50M652.30,94.30H660.10M652.30,158.50H660.10"/></g>
<path d="M652.00,115.00H660.40M656.20,110.80V119.20" stroke="#00008b" stroke-width="0.95" fill="none"/>
<path d="M652.30,111.10L660.10,118.90M652.30,118.90L660.10,111.10" stroke="#00008b" stroke-width="0.95" fill="none"/>
<g clip-path="url(#cr)">
<path d="M110.5,419.8H714.0" stroke="#ff00ff" stroke-width="1.4"/>
<g stroke="#000" stroke-width="1.0" fill="none"><path d="M306.10,362.90V399.70M302.10,362.90H310.10M302.10,399.70H310.10"/></g>
<path d="M302.30,381.30H309.90M306.10,377.50V385.10" stroke="#000" stroke-width="1.0" fill="none"/>
<g stroke="#000" stroke-width="1.0" fill="none"><path d="M309.30,379.90V416.70M305.30,379.90H313.30M305.30,416.70H313.30"/></g>
<path d="M305.50,398.30H313.10M309.30,394.50V402.10" stroke="#000" stroke-width="1.0" fill="none"/>
<g stroke="#000" stroke-width="1.0" fill="none"><path d="M313.70,423.10V459.90M309.70,423.10H317.70M309.70,459.90H317.70"/></g>
<path d="M309.90,441.50H317.50M313.70,437.70V445.30" stroke="#000" stroke-width="1.0" fill="none"/>
<g stroke="#000" stroke-width="1.0" fill="none"><path d="M315.90,375.90V412.70M311.90,375.90H319.90M311.90,412.70H319.90"/></g>
<path d="M312.10,394.30H319.70M315.90,390.50V398.10" stroke="#000" stroke-width="1.0" fill="none"/>
<g stroke="#000" stroke-width="1.0" fill="none"><path d="M385.50,448.10V484.90M381.50,448.10H389.50M381.50,484.90H389.50"/></g>
<path d="M381.70,466.50H389.30M385.50,462.70V470.30" stroke="#000" stroke-width="1.0" fill="none"/>
<g stroke="#000" stroke-width="1.0" fill="none"><path d="M395.70,412.90V449.70M391.70,412.90H399.70M391.70,449.70H399.70"/></g>
<path d="M391.90,431.30H399.50M395.70,427.50V435.10" stroke="#000" stroke-width="1.0" fill="none"/>
<g stroke="#000" stroke-width="1.0" fill="none"><path d="M402.00,383.60V420.40M398.00,383.60H406.00M398.00,420.40H406.00"/></g>
<path d="M398.20,402.00H405.80M402.00,398.20V405.80" stroke="#000" stroke-width="1.0" fill="none"/>
<g stroke="#000" stroke-width="1.0" fill="none"><path d="M406.50,372.00V408.80M402.50,372.00H410.50M402.50,408.80H410.50"/></g>
<path d="M402.70,390.40H410.30M406.50,386.60V394.20" stroke="#000" stroke-width="1.0" fill="none"/>
<g stroke="#000" stroke-width="1.0" fill="none"><path d="M409.60,371.50V408.30M405.60,371.50H413.60M405.60,408.30H413.60"/></g>
<path d="M405.80,389.90H413.40M409.60,386.10V393.70" stroke="#000" stroke-width="1.0" fill="none"/>
<g stroke="#000" stroke-width="1.0" fill="none"><path d="M412.30,375.60V412.40M408.30,375.60H416.30M408.30,412.40H416.30"/></g>
<path d="M408.50,394.00H416.10M412.30,390.20V397.80" stroke="#000" stroke-width="1.0" fill="none"/>
<g stroke="#000" stroke-width="1.0" fill="none"><path d="M414.50,380.10V416.90M410.50,380.10H418.50M410.50,416.90H418.50"/></g>
<path d="M410.70,398.50H418.30M414.50,394.70V402.30" stroke="#000" stroke-width="1.0" fill="none"/>
<g stroke="#000" stroke-width="1.0" fill="none"><path d="M416.30,384.30V421.10M412.30,384.30H420.30M412.30,421.10H420.30"/></g>
<path d="M412.50,402.70H420.10M416.30,398.90V406.50" stroke="#000" stroke-width="1.0" fill="none"/>
<g stroke="#000" stroke-width="1.0" fill="none"><path d="M418.10,387.10V423.90M414.10,387.10H422.10M414.10,423.90H422.10"/></g>
<path d="M414.30,405.50H421.90M418.10,401.70V409.30" stroke="#000" stroke-width="1.0" fill="none"/>
<g stroke="#000" stroke-width="1.0" fill="none"><path d="M419.90,390.20V427.00M415.90,390.20H423.90M415.90,427.00H423.90"/></g>
<path d="M416.10,408.60H423.70M419.90,404.80V412.40" stroke="#000" stroke-width="1.0" fill="none"/>
<g stroke="#000" stroke-width="1.0" fill="none"><path d="M580.00,441.20V478.00M576.00,441.20H584.00M576.00,478.00H584.00"/></g>
<path d="M576.20,459.60H583.80M580.00,455.80V463.40" stroke="#000" stroke-width="1.0" fill="none"/>
<g stroke="#000" stroke-width="1.0" fill="none"><path d="M593.00,348.80V385.60M589.00,348.80H597.00M589.00,385.60H597.00"/></g>
<path d="M589.20,367.20H596.80M593.00,363.40V371.00" stroke="#000" stroke-width="1.0" fill="none"/>
<g stroke="#000" stroke-width="1.0" fill="none"><path d="M657.80,377.50V414.30M653.80,377.50H661.80M653.80,414.30H661.80"/></g>
<path d="M654.00,395.90H661.60M657.80,392.10V399.70" stroke="#000" stroke-width="1.0" fill="none"/>
</g>
<path d="M110.5,77.85h8 M110.5,173.33h8 M110.5,268.81h8 M110.5,364.29h8 M110.5,383.00h8 M110.5,456.60h8 M144.03,364.3v8.3 M144.03,474.7v-8 M278.14,364.3v8.3 M278.14,474.7v-8 M412.25,364.3v8.3 M412.25,474.7v-8 M546.36,364.3v8.3 M546.36,474.7v-8 M680.47,364.3v8.3 M680.47,474.7v-8" stroke="#000" stroke-width="0.8" fill="none"/>
<path d="M110.5,11.2H714.0V474.7H110.5Z M110.5,364.3H714.0" stroke="#000" stroke-width="1.8" fill="none" stroke-linejoin="miter"/>
<g class="tx">
<g transform="translate(100.2,87.95) scale(0.958,1)"><text class="t" font-size="24.52" text-anchor="end">10<tspan font-size="19.62" dy="-11.3">-10</tspan></text><rect x="-54.89" y="-2.28" width="5.43" height="2.88" fill="#fff"/><rect x="-47.29" y="-2.28" width="5.03" height="2.88" fill="#fff"/><rect x="-21.24" y="-13.22" width="4.35" height="2.52" fill="#fff"/><rect x="-15.16" y="-13.22" width="4.03" height="2.52" fill="#fff"/></g>
<g transform="translate(100.2,183.43) scale(0.958,1)"><text class="t" font-size="24.52" text-anchor="end">10<tspan font-size="19.62" dy="-11.3">-11</tspan></text><rect x="-53.44" y="-2.28" width="5.43" height="2.88" fill="#fff"/><rect x="-45.84" y="-2.28" width="5.03" height="2.88" fill="#fff"/><rect x="-19.79" y="-13.22" width="4.35" height="2.52" fill="#fff"/><rect x="-13.71" y="-13.22" width="4.03" height="2.52" fill="#fff"/><rect x="-10.33" y="-13.22" width="4.35" height="2.52" fill="#fff"/><rect x="-4.25" y="-13.22" width="4.03" height="2.52" fill="#fff"/></g>
<g transform="translate(100.2,278.91) scale(0.958,1)"><text class="t" font-size="24.52" text-anchor="end">10<tspan font-size="19.62" dy="-11.3">-12</tspan></text><rect x="-54.89" y="-2.28" width="5.43" height="2.88" fill="#fff"/><rect x="-47.29" y="-2.28" width="5.03" height="2.88" fill="#fff"/><rect x="-21.24" y="-13.22" width="4.35" height="2.52" fill="#fff"/><rect x="-15.16" y="-13.22" width="4.03" height="2.52" fill="#fff"/></g>
<g transform="translate(100.2,374.39) scale(0.958,1)"><text class="t" font-size="24.52" text-anchor="end">10<tspan font-size="19.62" dy="-11.3">-13</tspan></text><rect x="-54.89" y="-2.28" width="5.43" height="2.88" fill="#fff"/><rect x="-47.29" y="-2.28" width="5.03" height="2.88" fill="#fff"/><rect x="-21.24" y="-13.22" width="4.35" height="2.52" fill="#fff"/><rect x="-15.16" y="-13.22" width="4.03" height="2.52" fill="#fff"/></g>
<g transform="translate(143.93,500.8) scale(0.958,1)"><text class="t" font-size="19.72" text-anchor="middle">10<tspan font-size="16.37" dy="-8.9">10</tspan></text><rect x="-19.47" y="-1.92" width="4.37" height="2.52" fill="#fff"/><rect x="-13.36" y="-1.92" width="4.05" height="2.52" fill="#fff"/><rect x="2.35" y="-10.57" width="3.63" height="2.27" fill="#fff"/><rect x="7.42" y="-10.57" width="3.36" height="2.27" fill="#fff"/></g>
<g transform="translate(278.04,500.8) scale(0.958,1)"><text class="t" font-size="19.72" text-anchor="middle">10<tspan font-size="16.37" dy="-8.9">14</tspan></text><rect x="-19.47" y="-1.92" width="4.37" height="2.52" fill="#fff"/><rect x="-13.36" y="-1.92" width="4.05" height="2.52" fill="#fff"/><rect x="2.35" y="-10.57" width="3.63" height="2.27" fill="#fff"/><rect x="7.42" y="-10.57" width="3.36" height="2.27" fill="#fff"/></g>
<g transform="translate(412.15,500.8) scale(0.958,1)"><text class="t" font-size="19.72" text-anchor="middle">10<tspan font-size="16.37" dy="-8.9">18</tspan></text><rect x="-19.47" y="-1.92" width="4.37" height="2.52" fill="#fff"/><rect x="-13.36" y="-1.92" width="4.05" height="2.52" fill="#fff"/><rect x="2.35" y="-10.57" width="3.63" height="2.27" fill="#fff"/><rect x="7.42" y="-10.57" width="3.36" height="2.27" fill="#fff"/></g>
<g transform="translate(546.26,500.8) scale(0.958,1)"><text class="t" font-size="19.72" text-anchor="middle">10<tspan font-size="16.37" dy="-8.9">22</tspan></text><rect x="-19.47" y="-1.92" width="4.37" height="2.52" fill="#fff"/><rect x="-13.36" y="-1.92" width="4.05" height="2.52" fill="#fff"/></g>
<g transform="translate(680.37,500.8) scale(0.958,1)"><text class="t" font-size="19.72" text-anchor="middle">10<tspan font-size="16.37" dy="-8.9">26</tspan></text><rect x="-19.47" y="-1.92" width="4.37" height="2.52" fill="#fff"/><rect x="-13.36" y="-1.92" width="4.05" height="2.52" fill="#fff"/></g>
<g transform="translate(99.9,387.4) scale(0.958,1)"><text class="t" font-size="12.84" text-anchor="end">2</text></g>
<g transform="translate(99.9,424.2) scale(0.958,1)"><text class="t" font-size="12.84" text-anchor="end">0</text></g>
<g transform="translate(99.9,461.0) scale(0.958,1)"><text class="t" font-size="12.84" text-anchor="end">-2</text></g>
<path transform="translate(377.4,528.2) scale(1.0000)" d="M0.14,-13.05 L4.24,-13.24 L8.24,-3.96 C9.19,-6.08 10.13,-8.43 10.03,-10.08 C9.94,-11.26 9.75,-12.20 10.36,-13.00 C11.07,-13.61 12.72,-13.14 12.72,-11.49 C12.72,-9.37 10.13,-4.19 7.07,0.52 L2.36,-11.02 C2.03,-11.82 1.41,-12.44 0.14,-12.67 Z" fill="#000"/>
<g transform="translate(398.0,528.1) scale(0.97,1)"><text class="t" font-size="26.72" text-anchor="start">(Hz)</text></g>
<path transform="translate(37.8,287.8) rotate(-90) scale(1.0156)" d="M0.14,-13.05 L4.24,-13.24 L8.24,-3.96 C9.19,-6.08 10.13,-8.43 10.03,-10.08 C9.94,-11.26 9.75,-12.20 10.36,-13.00 C11.07,-13.61 12.72,-13.14 12.72,-11.49 C12.72,-9.37 10.13,-4.19 7.07,0.52 L2.36,-11.02 C2.03,-11.82 1.41,-12.44 0.14,-12.67 Z" fill="#000"/>
<g transform="translate(37.6,273.3) rotate(-90) scale(0.958,1)"><text class="t" font-size="27.13" text-anchor="start">F</text></g>
<path transform="translate(44.6,257.9) rotate(-90) scale(0.8125)" d="M0.14,-13.05 L4.24,-13.24 L8.24,-3.96 C9.19,-6.08 10.13,-8.43 10.03,-10.08 C9.94,-11.26 9.75,-12.20 10.36,-13.00 C11.07,-13.61 12.72,-13.14 12.72,-11.49 C12.72,-9.37 10.13,-4.19 7.07,0.52 L2.36,-11.02 C2.03,-11.82 1.41,-12.44 0.14,-12.67 Z" fill="#000"/>
<g transform="translate(37.8,240.6) rotate(-90) scale(0.94,1)"><text class="t" font-size="27.13" text-anchor="start">(erg cm<tspan font-size="21.71" dy="-12.7">-2</tspan><tspan dy="12.7"> s</tspan><tspan font-size="21.71" dy="-12.7">-1</tspan><tspan dy="12.7">)</tspan></text><rect x="140.23" y="-14.77" width="4.81" height="2.67" fill="#fff"/><rect x="146.96" y="-14.77" width="4.45" height="2.67" fill="#fff"/></g>
<path d="M62.1,413.8V416.5L79.8,426.1V423.3Z" fill="#000"/><g fill="none" stroke="#000" stroke-linecap="round"><path d="M65.9,425.5C63.5,425.8 61.7,424.6 62.5,422.8C63.3,421.2 66,420.6 71.2,419.4C76.4,418.2 79.1,417.6 79.7,415.9C80.2,414.3 78.5,413.3 76.3,413.5" stroke-width="1.1"/><path d="M64.8,425.2C63.2,425 62.3,424 62.9,422.8C63.4,421.9 64.6,421.4 66.2,420.9M77.4,413.9C78.9,414.1 79.8,415 79.3,416.1C78.9,417 77.6,417.6 76,418.1" stroke-width="1.9"/></g>
<g transform="translate(227.2,33.9) scale(0.982,1)"><text class="t" font-size="18.09" text-anchor="end">Swift UVOT</text></g>
<g stroke="#006400" stroke-width="0.85" fill="none"><path d="M239.30,28.30H290.50M239.30,24.40V32.20M290.50,24.40V32.20"/></g>
<path d="M260.60,28.30H269.00M264.80,24.10V32.50" stroke="#006400" stroke-width="0.95" fill="none"/>
<g transform="translate(227.2,51.6) scale(0.982,1)"><text class="t" font-size="18.09" text-anchor="end">Swift XRT</text></g>
<g stroke="#8b008b" stroke-width="0.85" fill="none"><path d="M239.30,46.00H290.50M239.30,42.10V49.90M290.50,42.10V49.90"/></g>
<path d="M260.80,42.00L268.80,50.00M260.80,50.00L268.80,42.00" stroke="#8b008b" stroke-width="0.95" fill="none"/>
<g transform="translate(227.2,69.5) scale(0.982,1)"><text class="t" font-size="18.09" text-anchor="end">Fermi LAT</text></g>
<g stroke="#00008b" stroke-width="0.85" fill="none"><path d="M239.30,63.90H290.50M239.30,60.00V67.80M290.50,60.00V67.80"/></g>
<path d="M260.60,63.90H269.00M264.80,59.70V68.10" stroke="#00008b" stroke-width="0.95" fill="none"/>
<path d="M260.90,60.00L268.70,67.80M260.90,67.80L268.70,60.00" stroke="#00008b" stroke-width="0.95" fill="none"/>
<g transform="translate(402.5,33.9) scale(0.982,1)"><text class="t" font-size="18.09" text-anchor="end">Sync.</text></g>
<path d="M413,28.1H464.6" stroke="#000" stroke-width="1.8" fill="none" stroke-dasharray="3.1,5.9"/>
<g transform="translate(402.5,51.9) scale(0.982,1)"><text class="t" font-size="18.09" text-anchor="end">SSC</text></g>
<path d="M413,46.1H464.6" stroke="#00ff00" stroke-width="1.8" fill="none" stroke-dasharray="5.7,7.27"/>
<g transform="translate(402.5,69.8) scale(0.982,1)"><text class="t" font-size="18.09" text-anchor="end">EC</text></g>
<path d="M413,64.0H464.6" stroke="#ff00ff" stroke-width="1.8" fill="none" stroke-dasharray="3.2,6,13,12.7"/>
<g transform="translate(402.5,87.7) scale(0.982,1)"><text class="t" font-size="18.09" text-anchor="end">Total</text></g>
<path d="M413,81.9H464.6" stroke="#ff0000" stroke-width="2.2" fill="none"/>
</g>
</svg></body></html>
